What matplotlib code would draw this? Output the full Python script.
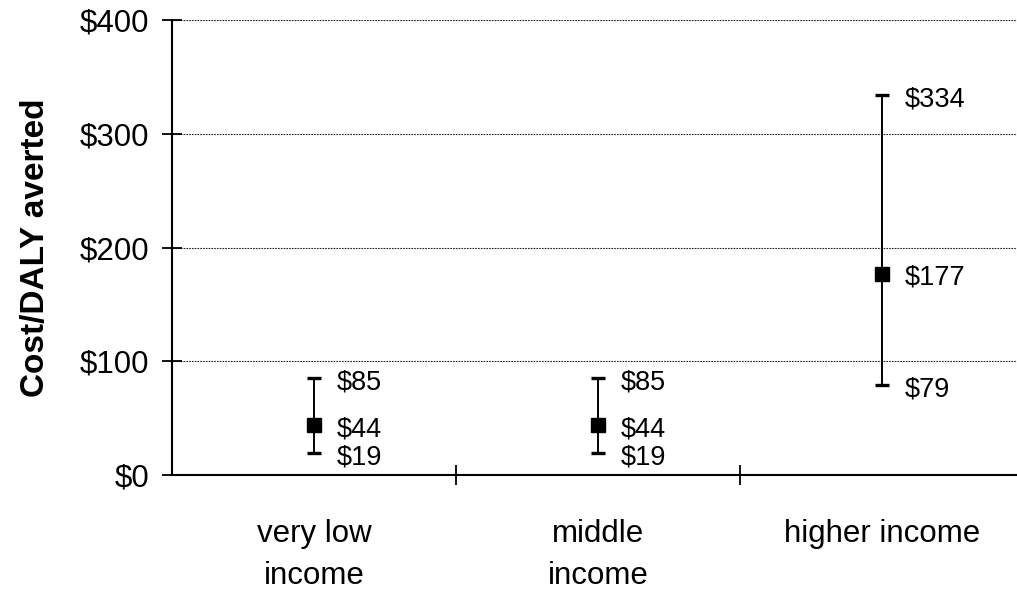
import matplotlib
matplotlib.use("Agg")
import matplotlib.pyplot as plt
from matplotlib.ticker import FixedLocator, FuncFormatter

plt.rcParams['font.family'] = ['Liberation Sans', 'DejaVu Sans']

# Cost per DALY averted by income group: point estimate with low/high range
groups = ["very low\nincome", "middle\nincome", "higher income"]
estimate = [44, 44, 177]
low = [19, 19, 79]
high = [85, 85, 334]
y_ticks = [0, 100, 200, 300, 400]

fig = plt.figure(figsize=(10.17, 5.90), dpi=100)
ax = fig.add_axes([172 / 1017, 115 / 590, 852 / 1017, 455 / 590])

x = list(range(len(groups)))
yerr = [[e - l for e, l in zip(estimate, low)],
        [h - e for e, h in zip(estimate, high)]]

ax.errorbar(x, estimate, yerr=yerr, fmt='s', color='black', ecolor='black',
            markersize=9.5, elinewidth=1.4, capsize=5, capthick=2.4, zorder=3)

# value labels beside each range
for xi, e, l, h in zip(x, estimate, low, high):
    for v in (h, e, l):
        ax.annotate(f"${v}", (xi, v), xytext=(16, -3), textcoords='offset points',
                    ha='left', va='center', fontsize=19.5)

ax.set_xlim(-0.5, 2.5)
ax.set_ylim(0, 400)

ax.yaxis.set_major_locator(FixedLocator(y_ticks))
ax.yaxis.set_major_formatter(FuncFormatter(lambda v, p: f"${v:.0f}"))
ax.tick_params(axis='y', direction='inout', length=15, width=1.3, labelsize=22.5, pad=9)

# category boundaries as major ticks, names on minor ticks
ax.xaxis.set_major_locator(FixedLocator([0.5, 1.5]))
ax.xaxis.set_major_formatter(FuncFormatter(lambda v, p: ""))
ax.xaxis.set_minor_locator(FixedLocator(x))
ax.set_xticklabels(groups, minor=True, fontsize=22.5, linespacing=1.5)
ax.tick_params(axis='x', which='major', direction='inout', length=15, width=1.3)
ax.tick_params(axis='x', which='minor', length=0, pad=32)

ax.yaxis.grid(True, color='#222222', linestyle=(0, (1.5, 1)), linewidth=0.8)
ax.set_axisbelow(True)

for s in ('top', 'right'):
    ax.spines[s].set_visible(False)
for s in ('left', 'bottom'):
    ax.spines[s].set_linewidth(1.5)

ax.set_ylabel("Cost/DALY averted", fontsize=24, fontweight='bold')
ax.yaxis.set_label_coords(-0.142, 0.5)

fig.savefig("out.png", dpi=100)
